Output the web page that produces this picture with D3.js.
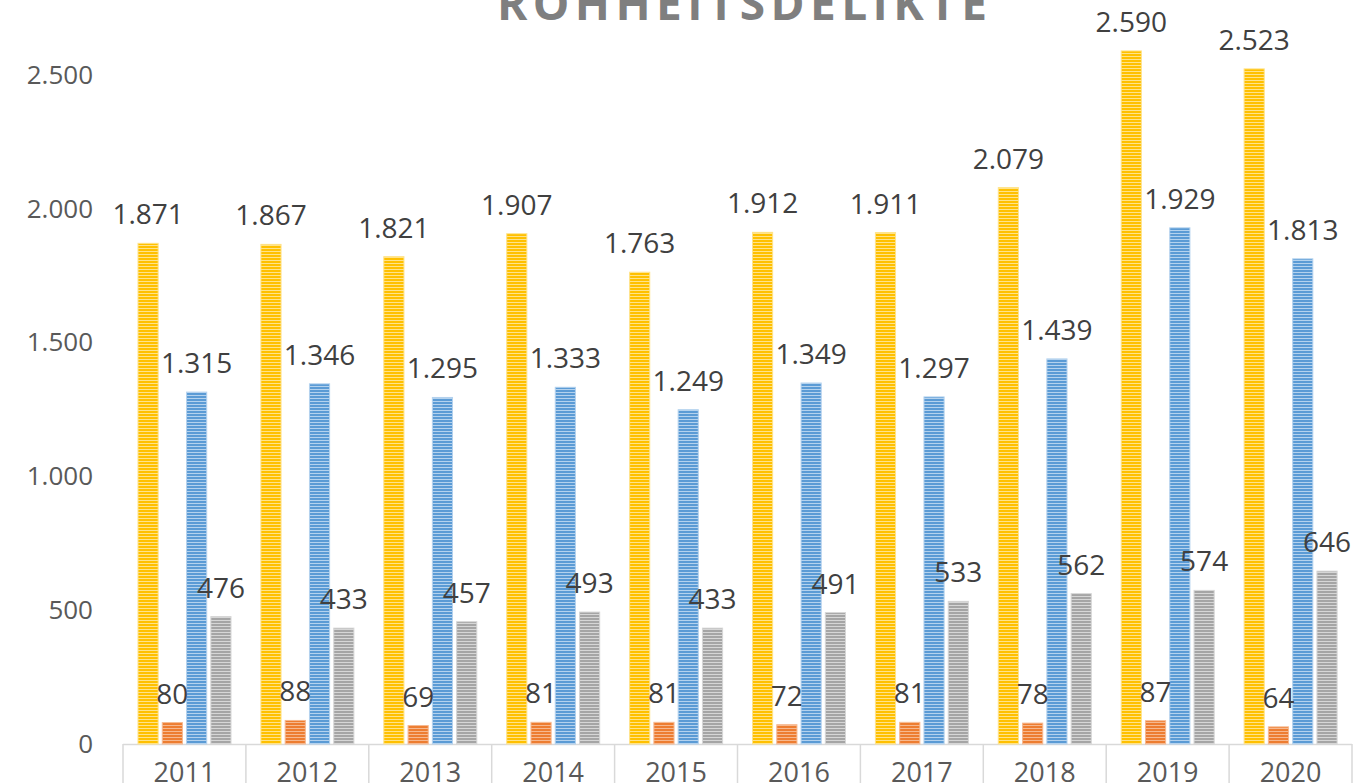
<!DOCTYPE html>
<html>
<head>
<meta charset="utf-8">
<script src="https://cdn.jsdelivr.net/npm/d3@7"></script>
<style>
  body { margin: 0; background: #fff; overflow: hidden; }
  svg { display: block; font-family: "Open Sans", sans-serif; }
</style>
</head>
<body>
<svg width="1366" height="783"></svg>
<script>
// Data
const years = ["2011", "2012", "2013", "2014", "2015", "2016", "2017", "2018", "2019", "2020"];
const seriesNames = ["s1", "s2", "s3", "s4"];
const series1 = [1871, 1867, 1821, 1907, 1763, 1912, 1911, 2079, 2590, 2523];
const series2 = [80, 88, 69, 81, 81, 72, 81, 78, 87, 64];
const series3 = [1315, 1346, 1295, 1333, 1249, 1349, 1297, 1439, 1929, 1813];
const series4 = [476, 433, 457, 493, 433, 491, 533, 562, 574, 646];
const yTicks = [0, 500, 1000, 1500, 2000, 2500];
const title = "ROHHEITSDELIKTE";

const seriesValues = [series1, series2, series3, series4];
const colors = [
    { dark: "#FFC000", light: "#FFE38A" },
    { dark: "#ED7D31", light: "#F6B88F" },
    { dark: "#5B9BD5", light: "#B4D2EE" },
    { dark: "#A5A5A5", light: "#D6D6D6" }
];

const de = d3.formatLocale({ decimal: ",", thousands: ".", grouping: [3], currency: ["", " €"] });
const fmt = de.format(",d");

const svg = d3.select("svg");
const defs = svg.append("defs");

// striped fill patterns
colors.forEach((c, i) => {
    const p = defs.append("pattern")
        .attr("id", "stripe" + i)
        .attr("patternUnits", "userSpaceOnUse")
        .attr("width", 8)
        .attr("height", 3);
    p.append("rect").attr("width", 8).attr("height", 3).attr("fill", c.light);
    p.append("rect").attr("width", 8).attr("height", 2).attr("fill", c.dark);
});

// scales
const x = d3.scaleBand()
    .domain(years)
    .range([123, 1352]);

const xInner = d3.scaleBand()
    .domain(seriesNames)
    .range([15, 108])
    .paddingInner(0.17);

const y = d3.scaleLinear()
    .domain([0, 2500])
    .range([744, 75]);

// title
svg.append("text")
    .attr("x", 742)
    .attr("y", 20)
    .attr("text-anchor", "middle")
    .attr("font-size", 46)
    .attr("font-weight", "bold")
    .attr("fill", "#7F7F7F")
    .attr("textLength", 490)
    .attr("lengthAdjust", "spacing")
    .text(title);

// y axis (labels only)
const yAxis = d3.axisLeft(y)
    .tickValues(yTicks)
    .tickFormat(fmt)
    .tickSize(0)
    .tickPadding(0);

svg.append("g")
    .attr("transform", "translate(93,0)")
    .call(yAxis)
    .call(g => g.select(".domain").remove())
    .call(g => g.selectAll("text")
        .attr("font-family", "Open Sans, sans-serif")
        .attr("font-size", 26)
        .attr("fill", "#595959"));

// x axis with category separators
const xAxis = svg.append("g");
xAxis.append("line")
    .attr("x1", x.range()[0]).attr("x2", x.range()[1])
    .attr("y1", y(0) + 0.5).attr("y2", y(0) + 0.5)
    .attr("stroke", "#D9D9D9")
    .attr("stroke-width", 1.5);

const bounds = years.map(d => x(d)).concat([x.range()[1]]);
xAxis.selectAll("line.sep")
    .data(bounds)
    .join("line")
    .attr("class", "sep")
    .attr("x1", d => d).attr("x2", d => d)
    .attr("y1", y(0)).attr("y2", 783)
    .attr("stroke", "#D9D9D9")
    .attr("stroke-width", 1.5);

xAxis.selectAll("text")
    .data(years)
    .join("text")
    .attr("x", d => x(d) + x.bandwidth() / 2)
    .attr("y", 782)
    .attr("text-anchor", "middle")
    .attr("font-size", 27)
    .attr("fill", "#595959")
    .text(d => d);

// bars
const groups = svg.append("g")
    .selectAll("g")
    .data(years)
    .join("g")
    .attr("transform", d => `translate(${x(d)},0)`);

groups.selectAll("rect")
    .data((d, i) => seriesNames.map((s, k) => ({ s, k, v: seriesValues[k][i] })))
    .join("rect")
    .attr("x", d => xInner(d.s))
    .attr("width", xInner.bandwidth())
    .attr("y", d => y(d.v))
    .attr("height", d => y(0) - y(d.v))
    .attr("fill", d => `url(#stripe${d.k})`)
    .attr("stroke", d => colors[d.k].light)
    .attr("stroke-width", 1);

// data labels
groups.selectAll("text")
    .data((d, i) => seriesNames.map((s, k) => ({ s, k, v: seriesValues[k][i] })))
    .join("text")
    .attr("x", d => xInner(d.s) + xInner.bandwidth() / 2)
    .attr("y", d => y(d.v) - 19)
    .attr("text-anchor", "middle")
    .attr("font-size", 28)
    .attr("fill", "#404040")
    .text(d => fmt(d.v));
</script>
</body>
</html>
